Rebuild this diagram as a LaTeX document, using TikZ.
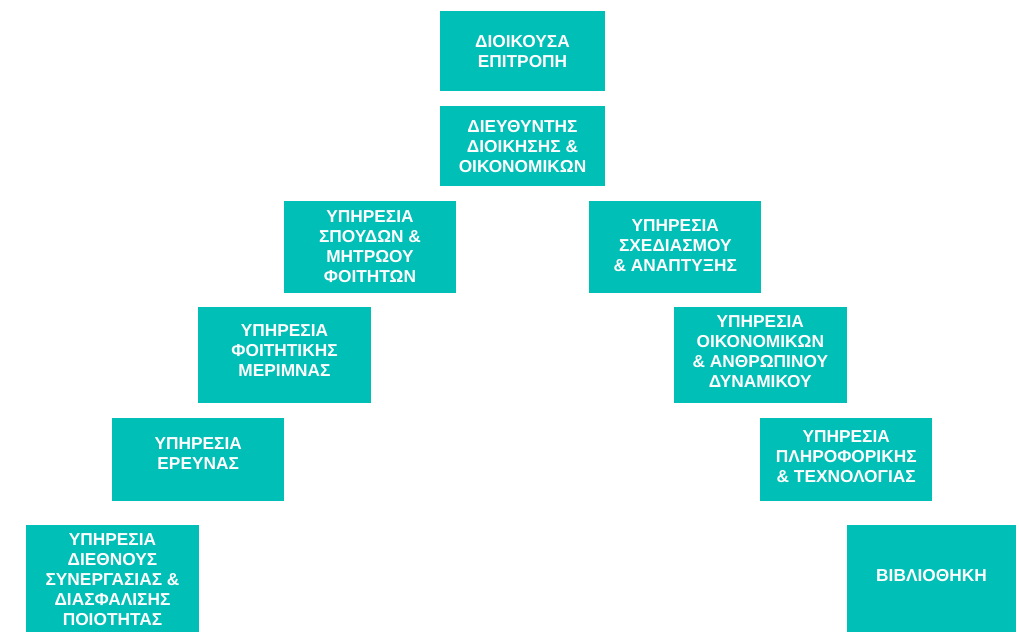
\documentclass[tikz,border=0pt]{standalone}
\usepackage{fontspec}
\setmainfont{Liberation Sans}
\definecolor{boxteal}{RGB}{0,191,182}
\begin{document}
\begin{tikzpicture}[x=1pt,y=-1pt,
  box/.style={fill=boxteal, draw=none, inner sep=0pt, anchor=center},
  txt/.style={text=white, font=\fontsize{17.3}{20}\selectfont\bfseries, align=center, inner sep=0pt, anchor=center}]
\useasboundingbox (0,0) rectangle (1019,632);
% boxes
\node[box, minimum width=165, minimum height=80] (b1) at (522.5,51) {};
\node[box, minimum width=165, minimum height=80] (b2) at (522.5,146) {};
\node[box, minimum width=172, minimum height=92] (b3) at (370,247) {};
\node[box, minimum width=172, minimum height=92] (b4) at (675.3,247) {};
\node[box, minimum width=172.5, minimum height=96] (b5) at (284.5,354.7) {};
\node[box, minimum width=172.5, minimum height=96] (b6) at (760.3,354.7) {};
\node[box, minimum width=172.3, minimum height=83.3] (b7) at (198.2,459.3) {};
\node[box, minimum width=172.3, minimum height=83.3] (b8) at (846.2,459.3) {};
\node[box, minimum width=173, minimum height=107] (b9) at (112.5,578.5) {};
\node[box, minimum width=169, minimum height=107] (b10) at (931.5,578.5) {};
% texts
\node[txt] (t1) at (522.5,52) {ΔΙΟΙΚΟΥΣΑ\\ΕΠΙΤΡΟΠΗ};
\node[txt] (t2) at (522.5,147) {ΔΙΕΥΘΥΝΤΗΣ\\ΔΙΟΙΚΗΣΗΣ \&\\ΟΙΚΟΝΟΜΙΚΩΝ};
\node[txt] (t3) at (370,247) {ΥΠΗΡΕΣΙΑ\\ΣΠΟΥΔΩΝ \&\\ΜΗΤΡΩΟΥ\\ΦΟΙΤΗΤΩΝ};
\node[txt] (t4) at (675.3,246) {ΥΠΗΡΕΣΙΑ\\ΣΧΕΔΙΑΣΜΟΥ\\\& ΑΝΑΠΤΥΞΗΣ};
\node[txt] (t5) at (284.5,351) {ΥΠΗΡΕΣΙΑ\\ΦΟΙΤΗΤΙΚΗΣ\\ΜΕΡΙΜΝΑΣ};
\node[txt] (t6) at (760.3,352) {ΥΠΗΡΕΣΙΑ\\ΟΙΚΟΝΟΜΙΚΩΝ\\\& ΑΝΘΡΩΠΙΝΟΥ\\ΔΥΝΑΜΙΚΟΥ};
\node[txt] (t7) at (198.2,454) {ΥΠΗΡΕΣΙΑ\\ΕΡΕΥΝΑΣ};
\node[txt] (t8) at (846.2,457) {ΥΠΗΡΕΣΙΑ\\ΠΛΗΡΟΦΟΡΙΚΗΣ\\\& ΤΕΧΝΟΛΟΓΙΑΣ};
\node[txt] (t9) at (112.5,579.5) {ΥΠΗΡΕΣΙΑ\\ΔΙΕΘΝΟΥΣ\\ΣΥΝΕΡΓΑΣΙΑΣ \&\\ΔΙΑΣΦΑΛΙΣΗΣ\\ΠΟΙΟΤΗΤΑΣ};
\node[txt] (t10) at (931.5,575.5) {ΒΙΒΛΙΟΘΗΚΗ};
\end{tikzpicture}
\end{document}
